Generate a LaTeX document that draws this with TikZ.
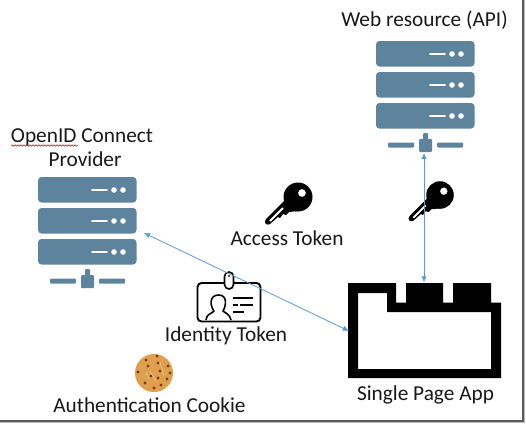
\documentclass[tikz,border=0pt]{standalone}
\usepackage{fontspec}
\setmainfont{Carlito}
\usetikzlibrary{arrows.meta,decorations.pathmorphing}
\definecolor{srv}{HTML}{5D849C}
\definecolor{lnk}{HTML}{5B9BD5}
\definecolor{ck}{HTML}{DFA04E}
\definecolor{chip}{HTML}{7A3B1C}
\tikzset{
  lbl/.style={anchor=base,inner sep=0pt,font=\fontsize{21.3}{23}\selectfont,text=black!90},
  link/.style={draw=lnk,line width=0.8pt,{Latex[length=6pt,width=5.5pt]}-{Latex[length=6pt,width=5.5pt]}},
  pics/server/.style={code={
    \foreach \t in {0,31,62}{
      \fill[srv,rounded corners=3.5pt] (0,\t) rectangle (98.5,\t+25.5);
      \draw[white,line width=1.8pt,line cap=round] (54,\t+13) -- (69,\t+13);
      \fill[white] (76,\t+13) circle (2.8);
      \fill[white] (85,\t+13) circle (2.8);
    }
    \fill[srv,rounded corners=1pt] (12,101.5) rectangle (38,106.5);
    \fill[srv,rounded corners=1pt] (61,101.5) rectangle (87,106.5);
    \fill[srv,rounded corners=1pt] (43,98) rectangle (56,111);
    \fill[srv,rounded corners=1pt] (47,92) rectangle (52,100);
  }},
  pics/keyicon/.style={code={
    \fill[black,even odd rule] (0,0) circle (14.5) (4,-4) circle (4);
    \fill[black,line join=round] (-13,3) -- (-32,22) .. controls (-35,26) and (-31,29) .. (-28,27) -- (-20,20) -- (-18,21) -- (-15,17) -- (-12,18) -- (-9,15) -- (0,14) -- cycle;
    \draw[white,line width=1.8pt] (-28,24) -- (-15,11);
  }}
}
\begin{document}
\begin{tikzpicture}[x=1pt,y=-1pt]
\useasboundingbox (0,0) rectangle (526,424);
\fill[white] (0,0) rectangle (526,424);
% frame shadow
\draw[black!25,line width=1pt] (524.6,0) -- (524.6,422.6) -- (0,422.6);
\draw[black!65,line width=1.6pt] (523.2,0) -- (523.2,421.2) -- (0,421.2);

% servers
\pic at (38,177) {server};
\pic at (376,41) {server};
\coordinate (opPort) at (144,233);
\coordinate (apiPort) at (424,153);

% labels
\node[lbl] (lblApi) at (424.5,26) {Web resource (API)};
\node[lbl] (lblOp1) at (82,142) {OpenID Connect};
\node[lbl] (lblOp2) at (85,166) {Provider};
\node[lbl] (lblAccess) at (287,245) {Access Token};
\node[lbl] (lblId) at (226,341) {Identity Token};
\node[lbl] (lblCookie) at (149.5,412) {Authentication Cookie};
\node[lbl] (lblSpa) at (425.5,400) {Single Page App};
\draw[red!80!black,line width=0.5pt,decorate,decoration={snake,amplitude=0.8pt,segment length=3pt}] (11,145.5) -- (78,145.5);

% keys
\pic at (298,197) {keyicon};
\pic[scale=0.95] at (440,195) {keyicon};

% identity badge
\draw[black,line width=1.9pt,rounded corners=4pt] (197.5,283) rectangle (260.5,321.5);
\draw[black,fill=white,line width=1.6pt,rounded corners=4.5pt] (224.5,272) rectangle (233.5,289);
\draw[black,fill=white] (229,276) circle (0.9);
\draw[black,line width=1.6pt,line join=round] (206,320) .. controls (206,314) and (213,313) .. (214,311) .. controls (210,306) and (209,295) .. (218.5,295) .. controls (228,295) and (226,306) .. (223,311) .. controls (225,313) and (230,314) .. (231,320);
\draw[black,line width=1.6pt] (233,298) -- (253,298) (233,305) -- (238,305) (240,305) -- (253,305) (233,312) -- (244,312);

% cookie
\fill[ck] (154,373) circle (19);
\foreach \a/\b in {157/356,146/360,158/363,168/366,148/366,138/372,170/373,160/371,151/376,167/379,145/383,161/385,154/388,158/378}{
  \fill[chip] (\a,\b) circle (1.7);
}
\draw[ck!70!white,line width=1pt] (150,371) -- (156,381) (146,372) -- (149,379) (160,362) -- (164,375);

% single page app
\node[minimum width=0pt,inner sep=0pt] (spaTop) at (424,283) {};
\node[minimum width=0pt,inner sep=0pt] (spaLeft) at (349,331) {};
\fill[black,even odd rule]
  (348,283) -- (396,283) -- (396,302.5) -- (406,302.5) -- (406,283) -- (443,283) -- (443,302.5) -- (453,302.5) -- (453,283) -- (491,283) -- (491,302.5) -- (501,302.5) -- (501,378) -- (348,378) -- cycle
  (358,293) -- (387,293) -- (387,312) -- (491,312) -- (491,369) -- (358,369) -- cycle;

% connectors
\draw[link] (opPort) -- (spaLeft);
\draw[link] (apiPort) -- (spaTop);
\end{tikzpicture}
\end{document}
